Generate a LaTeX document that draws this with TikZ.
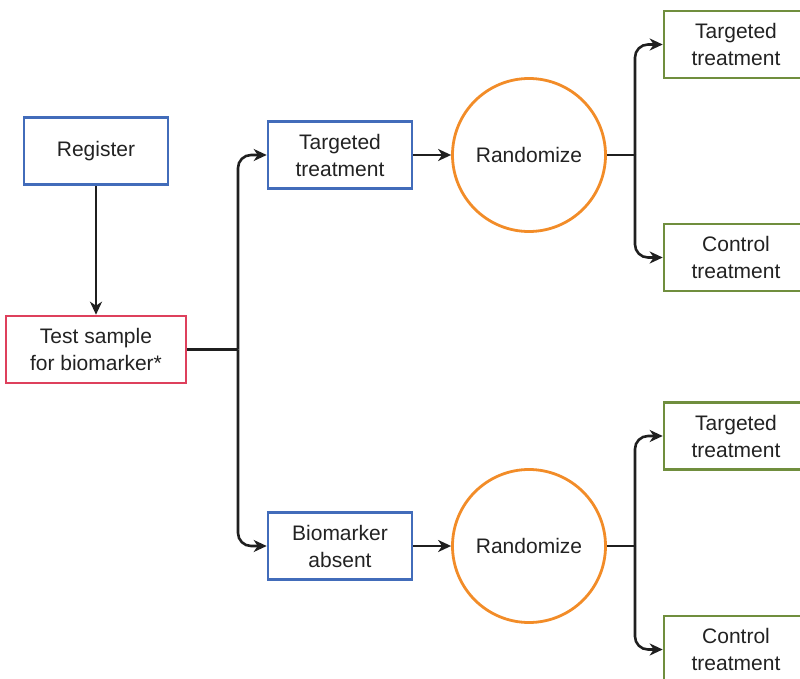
\documentclass[tikz,border=0pt]{standalone}
\usepackage{fontspec}
\setmainfont{Liberation Sans}
\usetikzlibrary{arrows.meta}
\definecolor{bluebox}{RGB}{66,108,186}
\definecolor{redbox}{RGB}{222,64,92}
\definecolor{orangec}{RGB}{242,140,40}
\definecolor{greenbox}{RGB}{112,142,62}
\definecolor{txt}{RGB}{34,34,34}
\begin{document}
\begin{tikzpicture}[x=1pt,y=-1pt,
  every node/.style={font=\fontsize{21}{27}\selectfont, text=txt, align=center, inner sep=0pt},
  box/.style={draw, line width=2.6pt, minimum width=144pt, minimum height=67pt},
  bluebx/.style={box, draw=bluebox},
  redbx/.style={box, draw=redbox, minimum width=180pt},
  greenbx/.style={box, draw=greenbox},
  randc/.style={circle, draw=orangec, line width=2.8pt, minimum size=153pt},
  conn/.style={line width=2.6pt, draw=black!88},
  arr/.style={conn, -{Stealth[length=13pt,width=12pt,inset=4pt]}, rounded corners=13pt}
]
\useasboundingbox (0,0) rectangle (800,679);
\node[bluebx] (reg) at (96,151) {Register};
\node[redbx] (ts) at (96,349.5) {Test sample\\for biomarker*};
\node[bluebx] (tt) at (340,155) {Targeted\\treatment};
\node[bluebx] (ba) at (340,546) {Biomarker\\absent};
\node[randc] (r1) at (529,155) {Randomize};
\node[randc] (r2) at (529,546) {Randomize};
\node[greenbx] (g1) at (736,44.5) {Targeted\\treatment};
\node[greenbx] (g2) at (736,257.5) {Control\\treatment};
\node[greenbx] (g3) at (736,436) {Targeted\\treatment};
\node[greenbx] (g4) at (736,649.5) {Control\\treatment};
\coordinate (j1) at (238,349.5);
\coordinate (j2) at (635,155);
\coordinate (j3) at (635,546);
\draw[arr] (reg) -- (ts);
\draw[conn] (ts.east) -- (j1);
\draw[arr] (j1) |- (tt.west);
\draw[arr] (j1) |- (ba.west);
\draw[arr] (tt) -- (r1);
\draw[arr] (ba) -- (r2);
\draw[conn] (r1.east) -- (j2);
\draw[arr] (j2) |- (g1.west);
\draw[arr] (j2) |- (g2.west);
\draw[conn] (r2.east) -- (j3);
\draw[arr] (j3) |- (g3.west);
\draw[arr] (j3) |- (g4.west);
\end{tikzpicture}
\end{document}
